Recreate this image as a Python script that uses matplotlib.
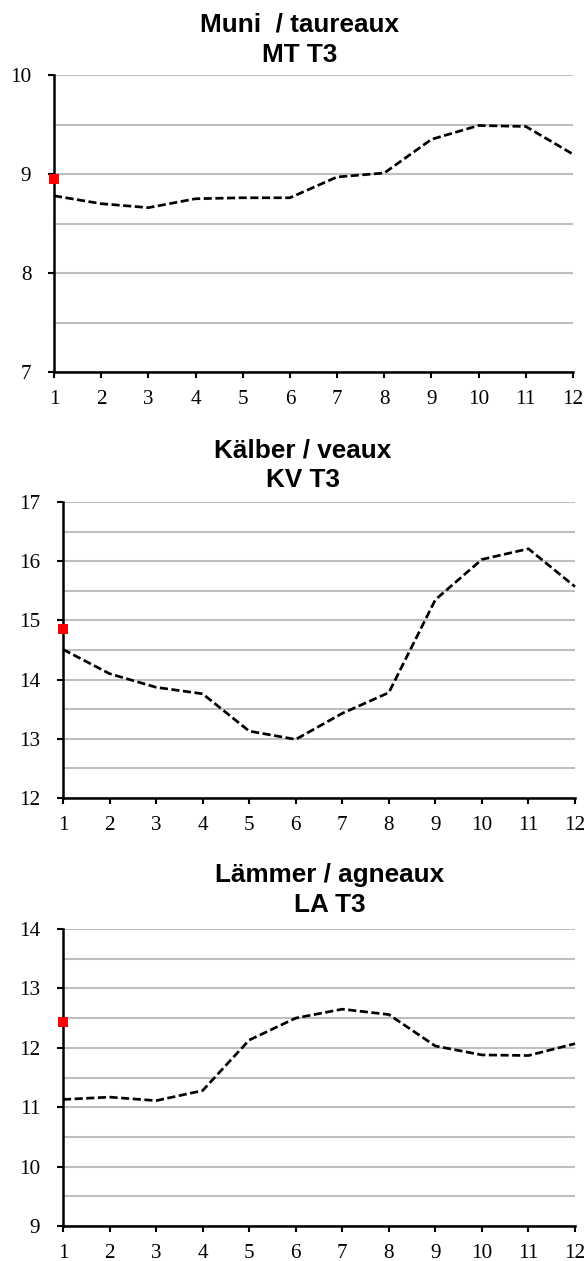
import matplotlib
matplotlib.use("Agg")
import matplotlib.pyplot as plt
import numpy as np

months = list(range(1, 13))

titles1 = ["Muni  / taureaux", "Kälber / veaux", "Lämmer / agneaux"]
titles2 = ["MT T3", "KV T3", "LA T3"]

mt_values = [8.78, 8.70, 8.66, 8.75, 8.76, 8.76, 8.97, 9.01, 9.35, 9.49, 9.48, 9.20]
kv_values = [14.51, 14.10, 13.87, 13.76, 13.13, 12.99, 13.43, 13.78, 15.35, 16.03, 16.21, 15.57]
la_values = [11.13, 11.17, 11.11, 11.28, 12.13, 12.50, 12.65, 12.56, 12.03, 11.88, 11.87, 12.07]
series = [mt_values, kv_values, la_values]

red_values = [8.95, 14.85, 12.43]
y_limits = [(7, 10), (12, 17), (9, 14)]

W, H = 585, 1261
DPI = 100
fig = plt.figure(figsize=(W / DPI, H / DPI), dpi=DPI)

# axes boxes in pixels: left, right, top, bottom
boxes = [(54, 573, 75, 372), (63, 575, 502, 798), (63, 575, 929, 1226)]
# title line baselines (pixels from top) and centre x
title_pos = [(300, 32, 62), (303, 457, 487), (330, 882, 912)]

serif = ["Liberation Serif", "DejaVu Serif"]
sans = ["Liberation Sans", "DejaVu Sans"]
tick_fs = 15.2
title_fs = 18.8

for i in range(3):
    l, r, t, b = boxes[i]
    ax = fig.add_axes([l / W, 1 - b / H, (r - l) / W, (b - t) / H])
    y0, y1 = y_limits[i]
    ax.set_xlim(1, 12)
    ax.set_ylim(y0, y1)
    ax.set_xticks(months)
    ax.set_yticks(np.arange(y0, y1 + 1, 1))
    ax.set_yticks(np.arange(y0 + 0.5, y1, 0.5), minor=True)
    ax.set_xticklabels([str(m) for m in months], fontfamily=serif, fontsize=tick_fs)
    ax.set_yticklabels([str(v) for v in range(y0, y1 + 1)], fontfamily=serif, fontsize=tick_fs)
    ax.tick_params(axis="y", which="major", length=4.3, width=1.5, direction="out", pad=12.0)
    ax.tick_params(axis="y", which="minor", length=0)
    ax.tick_params(axis="x", which="major", length=4.3, width=1.5, direction="out", pad=8.8)
    ax.grid(True, axis="y", which="both", color="#bfbfbf", linewidth=1.5, zorder=0)
    ax.set_axisbelow(True)
    for s in ["top", "right"]:
        ax.spines[s].set_visible(False)
    for s in ["left", "bottom"]:
        ax.spines[s].set_linewidth(1.8)
        ax.spines[s].set_color("black")
    ax.plot(months, series[i], color="black", lw=1.95, linestyle=(0, (3.0, 1.3)),
            clip_on=False, zorder=3)
    ax.plot([months[0]], [red_values[i]], marker="s", markersize=7.5, color="#ff0000",
            markeredgewidth=0, linestyle="none", clip_on=False, zorder=5)

    cx, yb1, yb2 = title_pos[i]
    fig.text(cx / W, 1 - yb1 / H, titles1[i], ha="center", va="baseline",
             fontsize=title_fs, fontweight="bold", fontfamily=sans)
    fig.text(cx / W, 1 - yb2 / H, titles2[i], ha="center", va="baseline",
             fontsize=title_fs, fontweight="bold", fontfamily=sans)

fig.savefig("out.png", dpi=DPI)
